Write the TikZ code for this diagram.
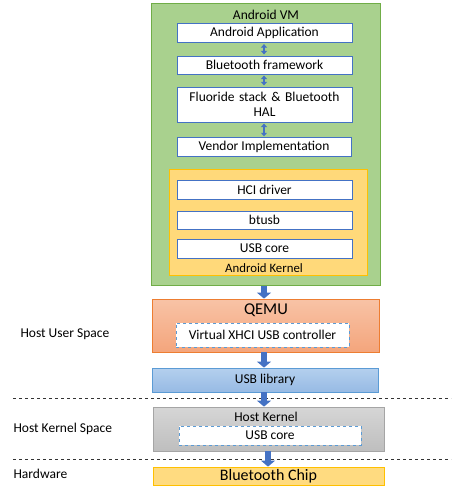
\documentclass[tikz,border=0pt]{standalone}
\usepackage{fontspec}
\setmainfont{Carlito}
\usetikzlibrary{arrows.meta,positioning}
\definecolor{vmfill}{HTML}{A9D18E}
\definecolor{vmdraw}{HTML}{70AD47}
\definecolor{kfill}{HTML}{FFD97A}
\definecolor{kdraw}{HTML}{FFC000}
\definecolor{bdraw}{HTML}{4472C4}
\definecolor{ldraw}{HTML}{5B9BD5}
\definecolor{qtop}{HTML}{F8C3A6}
\definecolor{qbot}{HTML}{F4A57C}
\definecolor{qdraw}{HTML}{ED7D31}
\definecolor{utop}{HTML}{B4D0EE}
\definecolor{ubot}{HTML}{97BAE4}
\definecolor{gtop}{HTML}{D6D6D6}
\definecolor{gbot}{HTML}{BEBEBE}
\definecolor{gdraw}{HTML}{A5A5A5}
\definecolor{chipfill}{HTML}{FFDB80}
\tikzset{
  inbox/.style={draw=bdraw, fill=white, line width=0.8pt, font=\fontsize{13.5}{15}\selectfont, align=center},
  dbox/.style={draw=ldraw, fill=white, dashed, line width=0.8pt, font=\fontsize{13.5}{15}\selectfont},
  bigarrow/.style={draw=bdraw, line width=5.5pt, -{Triangle[width=14pt,length=6pt]}},
  smallarrow/.style={draw=bdraw, line width=2pt, {Triangle[width=6pt,length=3.5pt]}-{Triangle[width=6pt,length=3.5pt]}, shorten <=1.2pt, shorten >=1.2pt},
  sep/.style={draw=black!80, dashed, line width=0.6pt},
  side/.style={anchor=west, font=\fontsize{13.5}{15}\selectfont},
  lbl/.style={font=\fontsize{13.5}{15}\selectfont, inner sep=0pt}
}
\begin{document}
\begin{tikzpicture}[x=1pt,y=-1pt]
\useasboundingbox (0,0) rectangle (459,492);
% Android VM
\draw[vmdraw, fill=vmfill, line width=0.8pt] (151.5,3.5) rectangle (380.5,285.5);
\node[lbl] (vm) at (266,15) {Android VM};
% Android kernel
\draw[kdraw, fill=kfill, line width=0.8pt] (169.5,169.5) rectangle (367.5,275.5);
\node[lbl] (ak) at (264,268) {\fontsize{12.8}{14}\selectfont Android Kernel};
% inner boxes
\node[inbox, minimum width=175pt, minimum height=19pt] (app) at (264.5,33) {Android Application};
\node[inbox, minimum width=175pt, minimum height=18pt] (bt) at (264.5,65) {Bluetooth framework};
\node[inbox, minimum width=175pt, minimum height=35pt, text width=170pt, inner sep=0pt] (fl) at (264.5,104.5) {Fluoride stack \& Bluetooth\\HAL};
\node[inbox, minimum width=174pt, minimum height=18pt] (ven) at (264,147) {Vendor Implementation};
\node[inbox, minimum width=175pt, minimum height=19pt] (hci) at (264.5,189.5) {HCI driver};
\node[inbox, minimum width=175pt, minimum height=18pt] (btusb) at (264.5,220) {btusb};
\node[inbox, minimum width=175pt, minimum height=19pt] (usbc) at (264.5,248.5) {USB core};
\draw[smallarrow] (app.south -| 264,0) -- (bt.north -| 264,0);
\draw[smallarrow] (bt.south -| 264,0) -- (fl.north -| 264,0);
\draw[smallarrow] (fl.south -| 264,0) -- (ven.north -| 264,0);
% QEMU
\node[draw=qdraw, line width=0.8pt, top color=qtop, bottom color=qbot, minimum width=227pt, minimum height=53pt] (qemu) at (266,325.5) {};
\node[lbl] (qlbl) at (266,310) {\fontsize{16.5}{18}\selectfont QEMU};
\node[dbox, minimum width=173pt, minimum height=24pt] (xhci) at (262.5,335) {Virtual XHCI USB controller};
% USB library
\node[draw=ldraw, line width=0.8pt, top color=utop, bottom color=ubot, minimum width=226pt, minimum height=24pt, font=\fontsize{13.5}{15}\selectfont] (lib) at (265,380) {USB library};
% Host kernel
\node[draw=gdraw, line width=0.8pt, top color=gtop, bottom color=gbot, minimum width=231pt, minimum height=44pt] (hk) at (268.5,429) {};
\node[lbl] (hklbl) at (266,417) {Host Kernel};
\node[dbox, minimum width=182pt, minimum height=19pt] (husb) at (270,435.5) {USB core};
% Bluetooth chip
\node[draw=kdraw, fill=chipfill, line width=0.8pt, minimum width=231pt, minimum height=18pt, inner sep=0pt, font=\fontsize{16}{17}\selectfont] (chip) at (268.5,476) {Bluetooth Chip};
% separators
\coordinate (s1a) at (13,398); \coordinate (s1b) at (451,398);
\coordinate (s2a) at (13,459); \coordinate (s2b) at (451,459);
\draw[sep] (s1a) -- (s1b);
\draw[sep] (s2a) -- (s2b);
% side labels
\node[side] (hus) at (17,334) {Host User Space};
\node[side] (hks) at (10,429) {Host Kernel Space};
\node[side] (hw) at (10,474) {Hardware};
% big arrows
\coordinate (vmb) at (264,285.5);
\draw[bigarrow] (vmb) -- (qemu.north -| vmb);
\draw[bigarrow] (qemu.south -| vmb) -- (lib.north -| vmb);
\draw[bigarrow] (lib.south -| vmb) -- (hk.north -| vmb);
\coordinate (hkb) at (268,451);
\draw[bigarrow] (hk.south -| hkb) -- (chip.north -| hkb);
\end{tikzpicture}
\end{document}
